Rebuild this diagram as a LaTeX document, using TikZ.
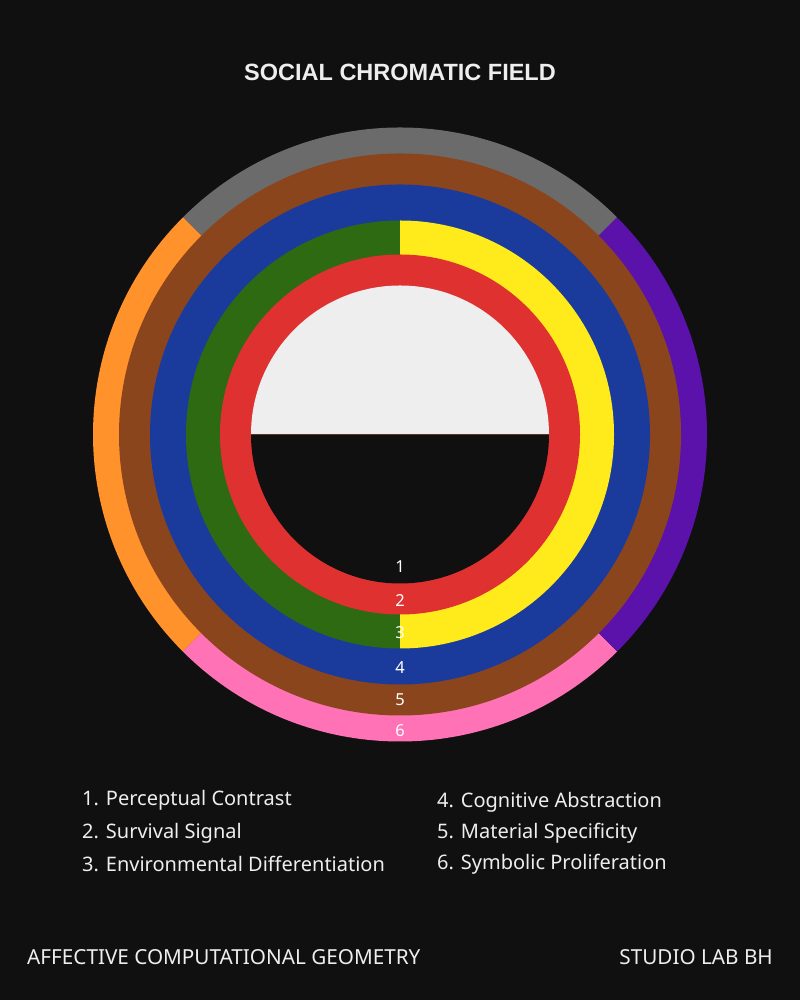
\documentclass[tikz,border=0pt]{standalone}
\usepackage{fontspec}
\setmainfont{Noto Sans}
\newfontfamily\titlefont{Liberation Sans}
\definecolor{bg}{HTML}{101010}
\definecolor{lite}{HTML}{EEEEEE}
\definecolor{cred}{HTML}{E03131}
\definecolor{cyel}{HTML}{FFEB1C}
\definecolor{cgrn}{HTML}{2E6A12}
\definecolor{cblu}{HTML}{1A3B9B}
\definecolor{cbrn}{HTML}{8B451D}
\definecolor{cgry}{HTML}{6B6B6B}
\definecolor{corg}{HTML}{FF922B}
\definecolor{cpur}{HTML}{5A12AA}
\definecolor{cpnk}{HTML}{FF73B6}
\definecolor{txt}{HTML}{EEEEEE}
\tikzset{
  ringnum/.style={text=white, font=\fontsize{16.5}{19}\selectfont, inner sep=0pt, anchor=center},
  legend/.style={text=txt, font=\fontsize{20}{23}\selectfont, inner sep=0pt, anchor=base west},
  foot/.style={text=txt, font=\fontsize{20.7}{24}\selectfont, inner sep=0pt},
}
\begin{document}
\begin{tikzpicture}[x=1pt,y=1pt]
\useasboundingbox (0,0) rectangle (800,1000);
\fill[bg] (0,0) rectangle (800,1000);
\coordinate (C) at (400,565.5);
% outer ring segments
\fill[cgry] (C) -- ++(45:307) arc[start angle=45,end angle=135,radius=307] -- cycle;
\fill[corg] (C) -- ++(135:307) arc[start angle=135,end angle=225,radius=307] -- cycle;
\fill[cpnk] (C) -- ++(225:307) arc[start angle=225,end angle=315,radius=307] -- cycle;
\fill[cpur] (C) -- ++(-45:307) arc[start angle=-45,end angle=45,radius=307] -- cycle;
% brown
\fill[cbrn] (C) circle[radius=281];
% blue
\fill[cblu] (C) circle[radius=250];
% green / yellow
\fill[cgrn] (C) -- ++(90:214) arc[start angle=90,end angle=270,radius=214] -- cycle;
\fill[cyel] (C) -- ++(-90:214) arc[start angle=-90,end angle=90,radius=214] -- cycle;
% red
\fill[cred] (C) circle[radius=180];
% inner
\fill[lite] (C) -- ++(0:149) arc[start angle=0,end angle=180,radius=149] -- cycle;
\fill[bg] (C) -- ++(180:149) arc[start angle=180,end angle=360,radius=149] -- cycle;
% ring numbers
\node[ringnum] (n1) at (400,433) {1};
\node[ringnum] (n2) at (400,399) {2};
\node[ringnum] (n3) at (400,367) {3};
\node[ringnum] (n4) at (400,332) {4};
\node[ringnum] (n5) at (400,300) {5};
\node[ringnum] (n6) at (400,269) {6};
% title
\node[text=txt, font=\titlefont\fontsize{23.5}{27}\selectfont\bfseries, inner sep=0pt, anchor=base] (title) at (400,919) {SOCIAL CHROMATIC FIELD};
% legend
\node[legend] (l1) at (82,194) {1. Perceptual Contrast};
\node[legend] (l2) at (82,161) {2. Survival Signal};
\node[legend] (l3) at (82,128) {3. Environmental Differentiation};
\node[legend] (l4) at (437,192.5) {4. Cognitive Abstraction};
\node[legend] (l5) at (437,161.5) {5. Material Specificity};
\node[legend] (l6) at (437,130.5) {6. Symbolic Proliferation};
% footer
\node[foot, anchor=base west] (f1) at (27,35) {AFFECTIVE COMPUTATIONAL GEOMETRY};
\node[foot, anchor=base east] (f2) at (773,35) {STUDIO LAB BH};
\end{tikzpicture}
\end{document}
